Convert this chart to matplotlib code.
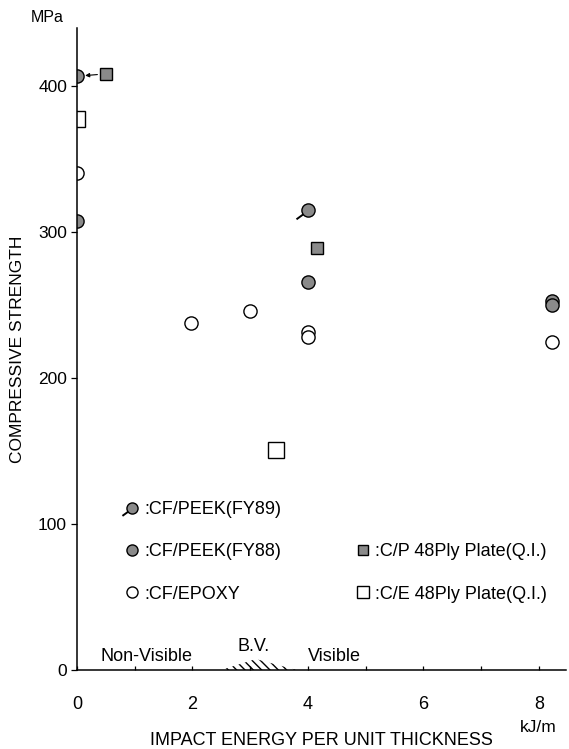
"""
Compressive strength after impact vs impact energy per unit thickness
"""
import numpy as np
import matplotlib.pyplot as plt
from matplotlib.lines import Line2D
from matplotlib.path import Path
from matplotlib.legend_handler import HandlerTuple

plt.rcParams['font.family'] = ['Liberation Sans', 'DejaVu Sans']
plt.rcParams['font.size'] = 13
plt.rcParams['hatch.linewidth'] = 1.0

# data (kJ/m, MPa)
peek89_x = [0.0, 4.0]
peek89_y = [407, 315]
peek88_x = [0.0, 4.01, 8.23, 8.23]
peek88_y = [308, 266, 253, 250]
epoxy_x = [0.0, 1.98, 2.99, 4.0, 4.0, 8.23]
epoxy_y = [341, 238, 246, 231.5, 228, 225]
cp_x = [0.5, 4.16]
cp_y = [408.6, 289.3]
ce_x = [0.0, 3.44]
ce_y = [378, 150.5]

# barely-visible zone outline
bv_x = [2.5, 3.1, 3.8]
bv_y = [0, 7.5, 0]

x_ticks = [0, 2, 4, 6, 8]
y_ticks = [0, 100, 200, 300, 400]

GRAY = '#8a8a8a'
# tail drawn on the FY89 markers (pixel units, normalised by the marker code)
tail = Path([(-5.0, -3.7), (-12.0, -8.8)])

fig = plt.figure(figsize=(5.69, 7.49), dpi=100)
ax = fig.add_axes([0.135, 0.1055, 0.86, 0.857])

ax.fill(bv_x, bv_y, facecolor='none', edgecolor='k', lw=0, hatch='\\\\\\\\')

kw = dict(ls='none', mec='k', mew=1.0)
ax.plot(epoxy_x, epoxy_y, marker='o', ms=9.5, mfc='white', **kw)
ax.plot(ce_x, ce_y, marker='s', ms=11.5, mfc='white', **kw)
ax.plot(peek88_x, peek88_y, marker='o', ms=9.5, mfc=GRAY, **kw)
ax.plot(cp_x, cp_y, marker='s', ms=9.0, mfc=GRAY, **kw)
ax.plot(peek89_x, peek89_y, marker='o', ms=9.5, mfc=GRAY, **kw)
ax.plot(peek89_x, peek89_y, marker=tail, ms=17.3, ls='none', mec='k', mew=1.4)

ax.annotate('', xy=(peek89_x[0], peek89_y[0]), xytext=(cp_x[0], cp_y[0]),
            arrowprops=dict(arrowstyle='-|>', color='k', lw=0.8,
                            mutation_scale=6, shrinkA=6, shrinkB=6))

ax.text(1.2, 9, 'Non-Visible', ha='center', va='center')
ax.text(3.06, 16, 'B.V.', ha='center', va='center')
ax.text(4.46, 9, 'Visible', ha='center', va='center')

ax.set_xlim(0, 8.47)
ax.set_ylim(0, 440)
ax.set_xticks(x_ticks)
ax.set_xticks(np.arange(1, 9, 2), minor=True)
ax.set_yticks(y_ticks)
ax.tick_params(axis='x', which='both', direction='in', length=3, width=0.9, pad=19, labelsize=13)
ax.tick_params(axis='y', direction='out', length=4, width=0.9, pad=3, labelsize=12.5)
for s in ['top', 'right']:
    ax.spines[s].set_visible(False)
for s in ['left', 'bottom']:
    ax.spines[s].set_linewidth(1.1)

ax.set_xlabel('IMPACT ENERGY PER UNIT THICKNESS', fontsize=13)
ax.xaxis.set_label_coords(0.5, -0.097)
ax.set_ylabel('COMPRESSIVE STRENGTH', fontsize=12.5)
ax.yaxis.set_label_coords(-0.105, 0.5)
ax.text(-0.061, 1.017, 'MPa', transform=ax.transAxes, ha='center', va='center', fontsize=11.5)
ax.text(0.943, -0.089, 'kJ/m', transform=ax.transAxes, ha='center', va='center', fontsize=12.5)

# legend
lk = dict(ls='none', mec='k', mew=1.0)
h89 = (Line2D([], [], marker='o', ms=8, mfc=GRAY, **lk),
       Line2D([], [], marker=tail, ms=14.5, ls='none', mec='k', mew=1.4))
h88 = Line2D([], [], marker='o', ms=8, mfc=GRAY, **lk)
hep = Line2D([], [], marker='o', ms=8, mfc='white', **lk)
hcp = Line2D([], [], marker='s', ms=7.5, mfc=GRAY, **lk)
hce = Line2D([], [], marker='s', ms=9, mfc='white', **lk)
blank = Line2D([], [], ls='none')
handles = [h89, h88, hep, blank, hcp, hce]
labels = [':CF/PEEK(FY89)', ':CF/PEEK(FY88)', ':CF/EPOXY', '',
          ':C/P 48Ply Plate(Q.I.)', ':C/E 48Ply Plate(Q.I.)']
ax.legend(handles, labels, ncol=2, loc='upper left', bbox_to_anchor=(0.094, 0.263),
          frameon=False, borderpad=0, borderaxespad=0, handlelength=1.0,
          handletextpad=0.2, columnspacing=4.0, labelspacing=1.4, fontsize=13,
          handler_map={tuple: HandlerTuple(ndivide=1)})

fig.savefig('out.png', dpi=100)
